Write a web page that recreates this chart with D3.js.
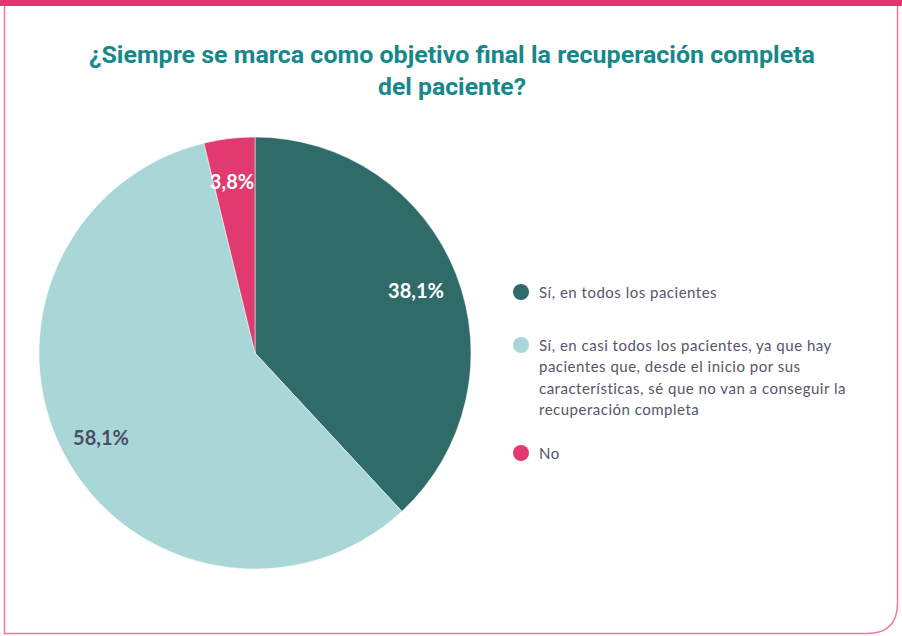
<!DOCTYPE html>
<html><head><meta charset="utf-8">
<script src="https://cdn.jsdelivr.net/npm/d3@7"></script>
<style>html,body{margin:0;padding:0;background:#fff;}svg{display:block;}</style>
</head><body>
<script>
const titleLines = ["¿Siempre se marca como objetivo final la recuperación completa", "del paciente?"];
const categories = ["Sí, en todos los pacientes", "Sí, en casi todos los pacientes, ya que hay pacientes que, desde el inicio por sus características, sé que no van a conseguir la recuperación completa", "No"];
const legendLines = [["Sí, en todos los pacientes"], ["Sí, en casi todos los pacientes, ya que hay", "pacientes que, desde el inicio por sus", "características, sé que no van a conseguir la", "recuperación completa"], ["No"]];
const values = [38.1, 58.1, 3.8];
const valueLabels = ["38,1%", "58,1%", "3,8%"];
const colors = ["#2e6b69", "#a9d6d7", "#e13a6e"];
const labelColors = ["#ffffff", "#4b4e66", "#ffffff"];

const W = 902, H = 636;
const svg = d3.select("body").append("svg").attr("width", W).attr("height", H);

// frame
svg.append("path")
  .attr("d", `M4.5,6 L4.5,633.5 L867,633.5 Q897.5,633.5 897.5,603 L897.5,6`)
  .attr("fill", "none").attr("stroke", "#ee7aa2").attr("stroke-width", 1.5);
svg.append("rect").attr("x", 0).attr("y", 0).attr("width", W).attr("height", 6).attr("fill", "#e8336f");

// title
svg.append("g").selectAll("text").data(titleLines).join("text")
  .attr("x", 452).attr("y", (d, i) => 63 + i * 32)
  .attr("text-anchor", "middle")
  .attr("font-family", "Roboto, sans-serif").attr("font-weight", 700)
  .attr("font-size", 23).attr("fill", "#17888a")
  .attr("textLength", (d, i) => i === 0 ? 726 : 148)
  .attr("lengthAdjust", "spacingAndGlyphs")
  .text(d => d);

// pie
const cx = 255, cy = 353, R = 216;
const pie = d3.pie().sort(null).value(d => d)(values);
const arc = d3.arc().innerRadius(0).outerRadius(R);
const g = svg.append("g").attr("transform", `translate(${cx},${cy})`);
g.selectAll("path").data(pie).join("path")
  .attr("d", arc).attr("fill", (d, i) => colors[i])
  .attr("stroke", "#fff").attr("stroke-width", 0.5);

const labelPos = [[161, -63], [-154, 84], [-23, -172]];
g.selectAll("text.lbl").data(pie).join("text").attr("class", "lbl")
  .attr("x", (d, i) => labelPos[i][0]).attr("y", (d, i) => labelPos[i][1])
  .attr("text-anchor", "middle").attr("dominant-baseline", "central")
  .attr("font-family", "Lato, sans-serif").attr("font-weight", 700)
  .attr("font-size", 20).attr("fill", (d, i) => labelColors[i])
  .text((d, i) => valueLabels[i]);

// legend
const legY = [292, 345, 453];
const leg = svg.append("g");
categories.forEach((c, i) => {
  leg.append("circle").attr("cx", 521).attr("cy", legY[i]).attr("r", 8).attr("fill", colors[i]);
  leg.append("g").selectAll("text").data(legendLines[i]).join("text")
    .attr("x", 539).attr("y", (d, j) => legY[i] + j * 21.3)
    .attr("dominant-baseline", "central")
    .attr("font-family", "Lato, sans-serif").attr("font-size", 15)
    .attr("letter-spacing", 0.5)
    .attr("fill", "#55566a").text(d => d);
});
</script>
</body></html>
